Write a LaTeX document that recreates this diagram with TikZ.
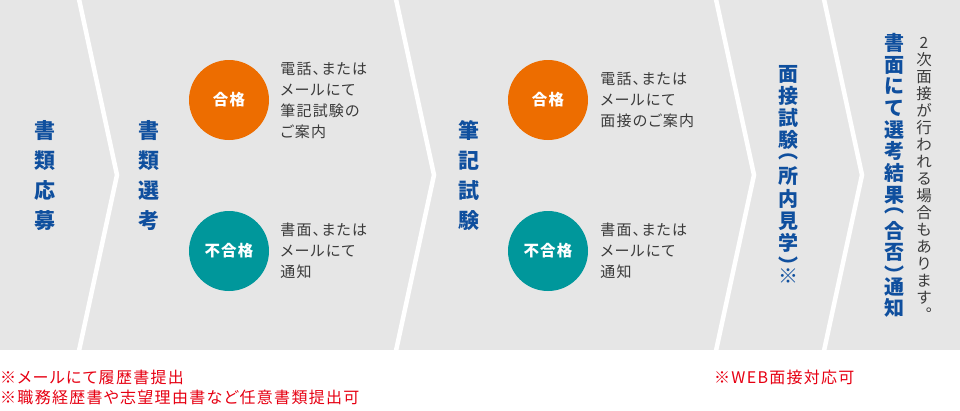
\documentclass[tikz,border=0pt]{standalone}
\usepackage{fontspec}
\newfontfamily\jp{Noto Sans CJK JP}
\newfontfamily\jpweit{Noto Sans CJK JP}[LetterSpace=8, RawFeature=+palt]
\usetikzlibrary{positioning}
\definecolor{bandgrau}{HTML}{E6E6E6}
\definecolor{titelblau}{HTML}{0F4F9E}
\definecolor{passorange}{HTML}{ED6D00}
\definecolor{failtuerkis}{HTML}{00979B}
\definecolor{textgrau}{HTML}{3A3A3A}
\definecolor{hinweisrot}{HTML}{E60012}

\begin{document}
\begin{tikzpicture}[x=1pt, y=-1pt, % Pixel-Koordinaten, y nach unten
    titel/.style={anchor=north, text=titelblau, font=\jp\bfseries\fontsize{21}{30}\selectfont, align=center, inner sep=0pt},
    langtitel/.style={anchor=north, text=titelblau, font=\jp\bfseries\fontsize{20}{#1}\selectfont, align=center, inner sep=0pt},
    kreis/.style={circle, minimum size=80pt, inner sep=0pt, text=white, font=\jpweit\bfseries\fontsize{15.5}{15.5}\selectfont},
    info/.style={align=left, inner sep=0pt, text=textgrau, font=\jpweit\fontsize{15}{21}\selectfont},
    hinweis/.style={anchor=west, inner sep=0pt, text=hinweisrot, font=\jpweit\fontsize{16}{20}\selectfont}]
    \useasboundingbox (0,0) rectangle (960,410);
    % Hintergrundband
    \fill[bandgrau] (0,0) rectangle (960,350);
    % Pfeilkanten zwischen den Schritten
    \begin{scope}
        \clip (0,0) rectangle (960,350);
        \foreach \x in {79,396,716,824} {
            \draw[white, line width=4.5pt, line join=miter] (\x-2,-10) -- (\x+38,175) -- (\x-2,360);
        }
    \end{scope}
    % Senkrechte Schritt-Titel
    \node[titel] (bewerbung) at (45,120) {書\\類\\応\\募};
    \node[titel] (auswahl) at (149,120) {書\\類\\選\\考};
    \node[titel] (pruefung) at (469,120) {筆\\記\\試\\験};
    \node[langtitel=22.2] (interview) at (788,65)
        {面\\接\\試\\験\\[-11.6pt]︵\\[3.2pt]所\\内\\見\\学\\[0.4pt]︶\\[-11.6pt]{\mdseries ※}};
    \node[langtitel=21.7] (ergebnis) at (894,33)
        {書\\面\\に\\て\\選\\考\\結\\果\\[-11.1pt]︵\\[3.7pt]合\\否\\[0.9pt]︶\\[-10.2pt]通\\知};
    \node[anchor=north, align=center, inner sep=0pt, text=textgrau, font=\jp\fontsize{15.5}{17}\selectfont] (zusatz) at (924,37)
        {2\\次\\面\\接\\が\\行\\わ\\れ\\る\\場\\合\\も\\あ\\り\\ま\\す\\︒};
    % Kreise: bestanden / nicht bestanden
    \node[kreis, fill=passorange] (pass1) at (229,100) {合格};
    \node[kreis, fill=failtuerkis] (fail1) at (229,251) {不合格};
    \node[kreis, fill=passorange] (pass2) at (548,100) {合格};
    \node[kreis, fill=failtuerkis] (fail2) at (548,251) {不合格};
    % Erklaerungen neben den Kreisen
    \node[info, right=11pt of pass1] (pass1text) {電話、または\\メールにて\\筆記試験の\\ご案内};
    \node[info, right=11pt of fail1] (fail1text) {書面、または\\メールにて\\通知};
    \node[info, right=12pt of pass2] (pass2text) {電話、または\\メールにて\\面接のご案内};
    \node[info, right=12pt of fail2] (fail2text) {書面、または\\メールにて\\通知};
    % Hinweise unten
    \node[hinweis] (hinweis1) at (0,377) {※メールにて履歴書提出};
    \node[hinweis] (hinweis2) at (0,397) {※職務経歴書や志望理由書など任意書類提出可};
    \node[hinweis] (hinweis3) at (714,377) {※WEB面接対応可};
\end{tikzpicture}
\end{document}
